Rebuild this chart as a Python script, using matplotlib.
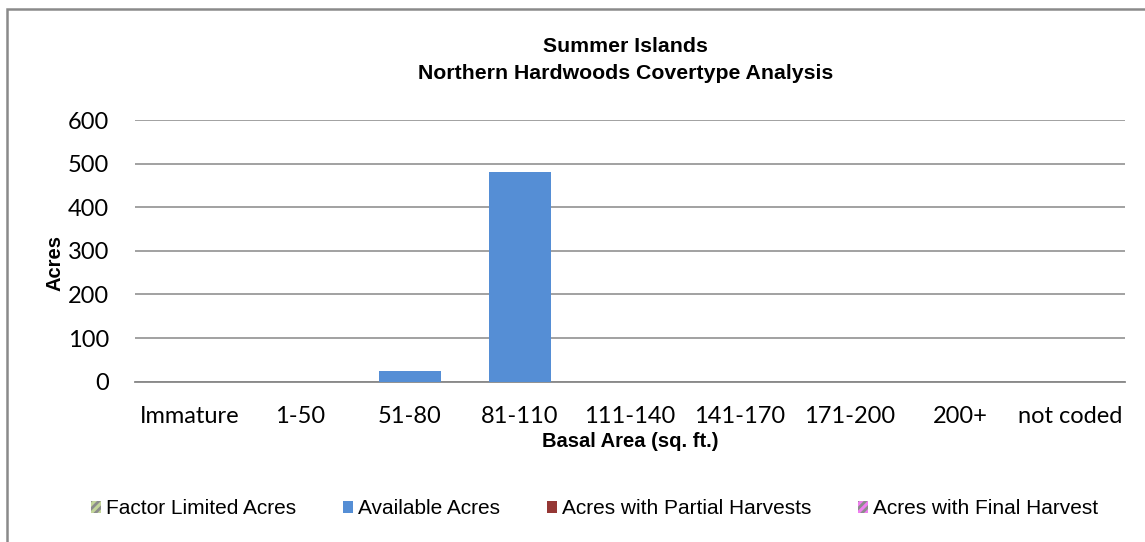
import matplotlib.pyplot as plt
from matplotlib.patches import Rectangle
import numpy as np

categories = ['Immature', '1-50', '51-80', '81-110', '111-140', '141-170',
              '171-200', '200+', 'not coded']
factor_limited = [0, 0, 0, 0, 0, 0, 0, 0, 0]
available = [0, 0, 24, 481, 0, 0, 0, 0, 0]
partial_harvest = [0, 0, 0, 0, 0, 0, 0, 0, 0]
final_harvest = [0, 0, 0, 0, 0, 0, 0, 0, 0]
y_ticks = [0, 100, 200, 300, 400, 500, 600]

GRID = '#888888'

plt.rcParams['hatch.color'] = '#8c8c8c'
plt.rcParams['hatch.linewidth'] = 2.0

fig = plt.figure(figsize=(11.45, 5.42), dpi=100)
ax = fig.add_axes([0.1179, 0.2958, 0.8646, 0.4827])

x = np.arange(len(categories))
w = 0.57
bottom = np.zeros(len(categories))
series = [
    ('Factor Limited Acres', factor_limited, '#c3d69b', '////'),
    ('Available Acres', available, '#558ed5', None),
    ('Acres with Partial Harvests', partial_harvest, '#953735', None),
    ('Acres with Final Harvest', final_harvest, '#f07ef0', '////'),
]
for name, vals, col, hatch in series:
    ax.bar(x, vals, w, bottom=bottom, color=col, hatch=hatch, label=name,
           linewidth=0, zorder=3)
    bottom += np.array(vals)

ax.set_xlim(-0.5, len(categories) - 0.5)
ax.set_ylim(0, 600)
ax.set_yticks(y_ticks)
ax.set_xticks(x)
ax.set_xticklabels(categories, family='Lato', fontsize=17)
ax.set_yticklabels([str(v) for v in y_ticks], family='Lato', fontsize=17)
ax.tick_params(length=0)
ax.tick_params(axis='x', pad=17.5)
ax.tick_params(axis='y', pad=18.7)
ax.grid(axis='y', color=GRID, linewidth=1.1, zorder=0)
for s in ['top', 'right', 'left']:
    ax.spines[s].set_visible(False)
ax.spines['bottom'].set_color(GRID)
ax.spines['bottom'].set_linewidth(1.3)

ax.set_ylabel('Acres', family='Liberation Sans', fontweight='bold', fontsize=14.5)
ax.yaxis.set_label_coords(-0.0808, 0.455)
ax.yaxis.label.set_va('center')
ax.set_xlabel('Basal Area (sq. ft.)', family='Liberation Sans', fontweight='bold',
              fontsize=14.5)
ax.xaxis.set_label_coords(0.5, -0.228)
ax.xaxis.label.set_va('center')

fig.text(0.546, 0.889, 'Summer Islands\nNorthern Hardwoods Covertype Analysis',
         ha='center', va='center', family='Liberation Sans', fontweight='bold',
         fontsize=15.3, linespacing=1.55)

fig.legend(loc='center', bbox_to_anchor=(0.519, 0.061), ncol=4, frameon=False,
           prop={'family': 'Liberation Sans', 'size': 15},
           handlelength=0.48, handleheight=0.48, handletextpad=0.24,
           columnspacing=2.25, borderpad=0, borderaxespad=0)

# outer chart border
fig.patches.append(Rectangle((7 / 1145, -0.1), 1.2, 1.1 - 9 / 542,
                             transform=fig.transFigure, fill=False,
                             edgecolor='#8a8a8a', linewidth=1.8))

fig.savefig('out.png', dpi=100)
